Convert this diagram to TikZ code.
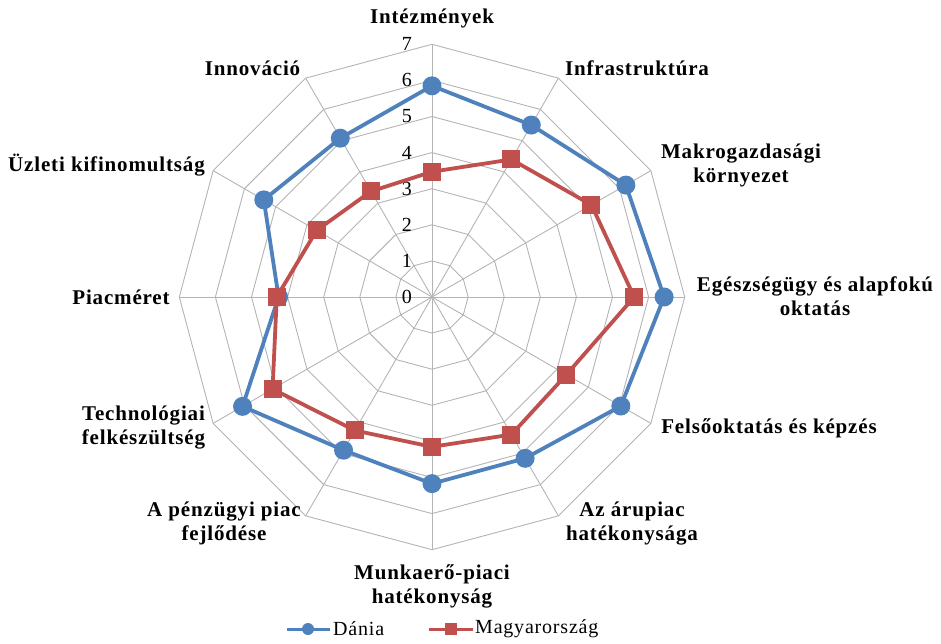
\documentclass[tikz,border=0pt]{standalone}
\usepackage{fontspec}
\setmainfont{Liberation Serif}
\newfontfamily\lblfont[LetterSpace=4]{Liberation Serif}
\definecolor{dblue}{HTML}{4F81BD}
\definecolor{hred}{HTML}{C0504D}
\definecolor{gridc}{HTML}{B4B4B4}
\tikzset{
  gridline/.style={draw=gridc, line width=0.9pt},
  axlabel/.style={font=\lblfont\bfseries\fontsize{21}{24}\selectfont, align=center, inner sep=0pt},
  ticklabel/.style={font=\fontsize{20}{24}\selectfont, anchor=east, inner sep=0pt},
  legtext/.style={font=\lblfont\fontsize{20}{24}\selectfont, anchor=west, inner sep=0pt},
  dline/.style={draw=dblue, line width=3.8pt, line join=round},
  hline/.style={draw=hred, line width=3.8pt, line join=round},
  dmark/.style={circle, fill=dblue, minimum size=19pt, inner sep=0pt},
  hmark/.style={rectangle, fill=hred, minimum size=18pt, inner sep=0pt},
  dmarksmall/.style={circle, fill=dblue, minimum size=12pt, inner sep=0pt},
  hmarksmall/.style={rectangle, fill=hred, minimum size=12pt, inner sep=0pt},
}
\begin{document}
\begin{tikzpicture}[x=1pt,y=1pt]
\useasboundingbox (0,0) rectangle (941,643);
\def\u{36.1}
\begin{scope}[shift={(432,346)}]
  \coordinate (c) at (0,0);
  % grid polygons
  \foreach \k in {1,...,7}{
    \draw[gridline] (90:\k*\u) -- (60:\k*\u) -- (30:\k*\u) -- (0:\k*\u) -- (-30:\k*\u) -- (-60:\k*\u) -- (-90:\k*\u) -- (-120:\k*\u) -- (-150:\k*\u) -- (180:\k*\u) -- (150:\k*\u) -- (120:\k*\u) -- cycle;
  }
  % spokes
  \foreach \i/\a in {1/90,2/60,3/30,4/0,5/-30,6/-60,7/-90,8/-120,9/-150,10/180,11/150,12/120}{
    \coordinate (o\i) at (\a:7*\u);
    \draw[gridline] (c) -- (o\i);
  }
  % tick labels
  \foreach \k in {0,...,7}{
    \node[ticklabel] (t\k) at (-20,\k*\u) {\k};
  }
  % data
  \foreach \i/\a/\dv/\hv in {1/90/5.85/3.47, 2/60/5.5/4.4, 3/30/6.2/5.1, 4/0/6.43/5.6, 5/-30/6.04/4.3, 6/-60/5.16/4.4, 7/-90/5.17/4.15, 8/-120/4.9/4.27, 9/-150/6.06/5.1, 10/180/4.25/4.3, 11/150/5.38/3.69, 12/120/5.08/3.38}{
    \coordinate (d\i) at (\a:\dv*\u);
    \coordinate (h\i) at (\a:\hv*\u);
  }
  \draw[dline] (d1) -- (d2) -- (d3) -- (d4) -- (d5) -- (d6) -- (d7) -- (d8) -- (d9) -- (d10) -- (d11) -- (d12) -- cycle;
  \foreach \i in {1,...,12}{ \node[dmark] (dm\i) at (d\i) {}; }
  \draw[hline] (h1) -- (h2) -- (h3) -- (h4) -- (h5) -- (h6) -- (h7) -- (h8) -- (h9) -- (h10) -- (h11) -- (h12) -- cycle;
  \foreach \i in {1,...,12}{ \node[hmark] (hm\i) at (h\i) {}; }
\end{scope}
% axis labels
\node[axlabel] (l1) at (432,625) {Intézmények};
\node[axlabel] (l2) at (637,575) {Infrastruktúra};
\node[axlabel] (l3) at (741,478) {Makrogazdasági\\környezet};
\node[axlabel] (l4) at (815,346.5) {Egészségügy és alapfokú\\oktatás};
\node[axlabel] (l5) at (769,215) {Felsőoktatás és képzés};
\node[axlabel] (l6) at (632,119.5) {Az árupiac\\hatékonysága};
\node[axlabel] (l7) at (432,57) {Munkaerő-piaci\\hatékonyság};
\node[axlabel] (l8) at (224,119.5) {A pénzügyi piac\\fejlődése};
\node[axlabel] (l9) at (143.5,215.5) {Technológiai\\felkészültség};
\node[axlabel] (l10) at (121,346) {Piacméret};
\node[axlabel] (l11) at (106.5,478) {Üzleti kifinomultság};
\node[axlabel] (l12) at (252.5,575) {Innováció};
% legend
\coordinate (lb1) at (287,14);
\coordinate (lb2) at (330,14);
\draw[draw=dblue, line width=3pt] (lb1) -- (lb2);
\node[dmarksmall] (lbm) at (308,14) {};
\node[legtext] (lbt) at (333,14) {Dánia};
\coordinate (lr1) at (429,14);
\coordinate (lr2) at (473,14);
\draw[draw=hred, line width=3pt] (lr1) -- (lr2);
\node[hmarksmall] (lrm) at (451,14) {};
\node[legtext] (lrt) at (475,14) {Magyarország};
\end{tikzpicture}
\end{document}
